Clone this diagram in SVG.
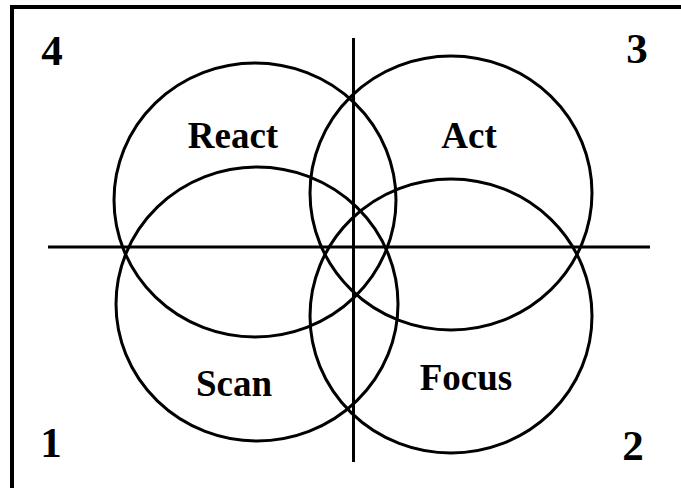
<svg xmlns="http://www.w3.org/2000/svg" width="681" height="488" viewBox="0 0 681 488">
<style>
.c{fill:none;stroke:#000;stroke-width:3}
.l{stroke:#000;stroke-width:3}
.t{font-family:"Liberation Serif","Times New Roman",serif;font-weight:bold;font-size:37px;fill:#000;text-anchor:middle}
.n{font-family:"Liberation Serif","Times New Roman",serif;font-weight:bold;font-size:43px;fill:#000;text-anchor:middle}
</style>
<rect x="0" y="0" width="681" height="488" fill="#fff"/>
<rect x="12" y="7" width="720" height="520" fill="none" stroke="#000" stroke-width="4"/>
<g id="connectors">
<line class="l" x1="48" y1="247" x2="650" y2="247"/>
<line class="l" x1="353.5" y1="38" x2="353.5" y2="462"/>
</g>
<g id="react"><ellipse class="c" cx="255" cy="200" rx="141" ry="137"/><text class="t" x="233" y="148">React</text></g>
<g id="act"><ellipse class="c" cx="451" cy="193" rx="141" ry="137"/><text class="t" x="469" y="148">Act</text></g>
<g id="scan"><ellipse class="c" cx="257" cy="304" rx="141" ry="137"/><text class="t" x="234" y="396">Scan</text></g>
<g id="focus"><ellipse class="c" cx="451" cy="316" rx="141" ry="137"/><text class="t" x="466" y="390">Focus</text></g>
<g id="q4"><text class="n" x="52" y="65">4</text></g>
<g id="q3"><text class="n" x="637" y="63">3</text></g>
<g id="q1"><text class="n" x="51" y="457">1</text></g>
<g id="q2"><text class="n" x="633" y="460">2</text></g>
</svg>
